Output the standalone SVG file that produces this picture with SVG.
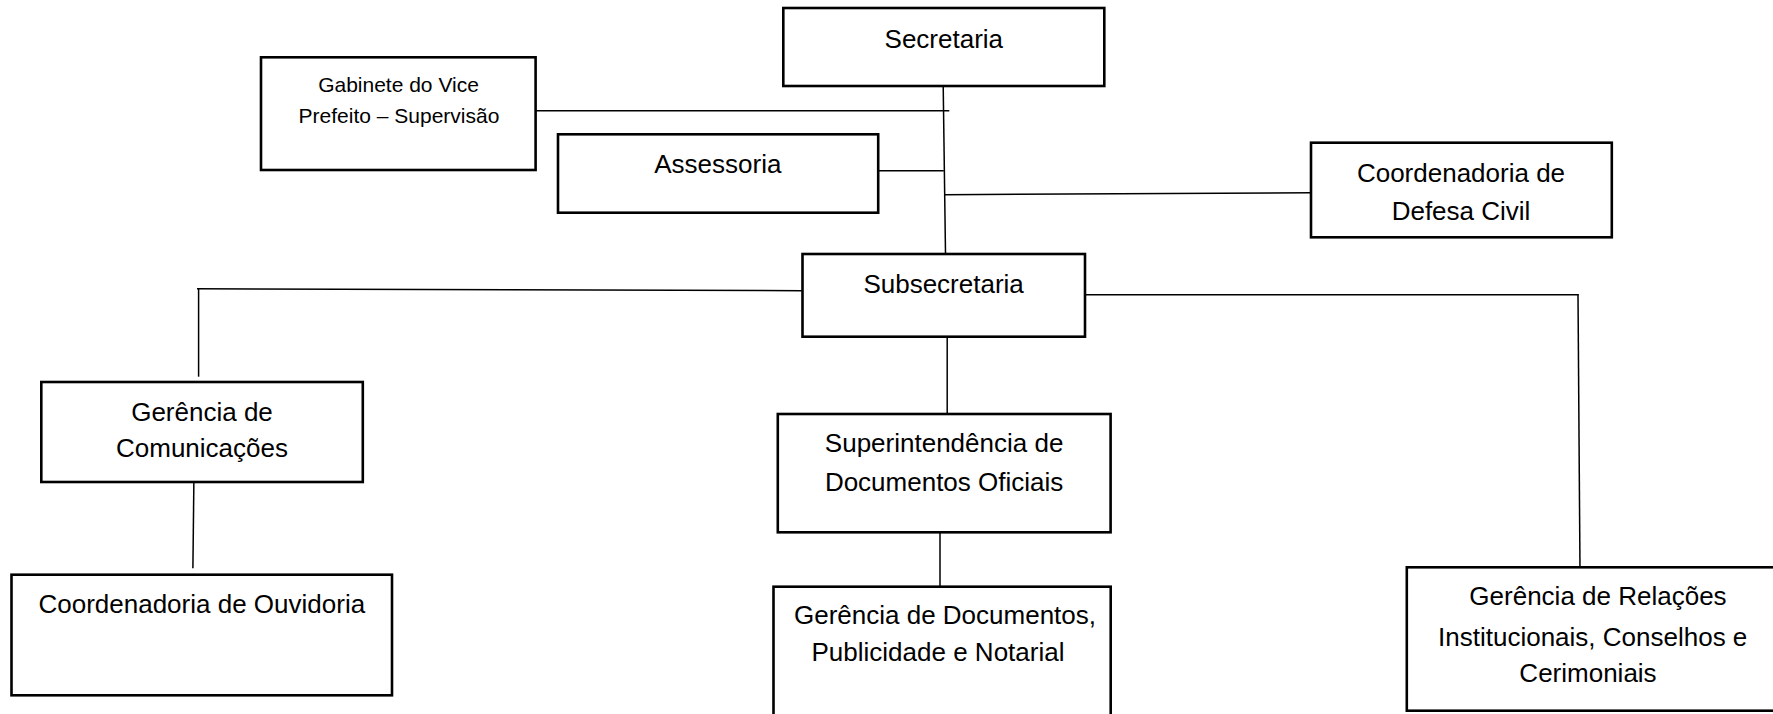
<svg xmlns="http://www.w3.org/2000/svg" width="1773" height="714" viewBox="0 0 1773 714">
<style>
  .box { fill: #ffffff; stroke: #000000; stroke-width: 2.6; }
  .lbl { font-family: "Liberation Sans", Arial, sans-serif; font-size: 26px; fill: #000000; text-anchor: middle; }
  .sm { font-size: 21px; }
  .conn line { stroke: #000000; stroke-width: 1.5; fill: none; }
</style>
<rect x="0" y="0" width="1773" height="714" fill="#ffffff"/>
<g id="connectors" class="conn">
  <line x1="943.2" y1="86" x2="945.5" y2="254"/>
  <line x1="535.6" y1="110.7" x2="949.3" y2="110.7"/>
  <line x1="878.2" y1="170.7" x2="943.8" y2="170.7"/>
  <line x1="944.4" y1="194.7" x2="1311" y2="192.7"/>
  <line x1="802.5" y1="290.7" x2="197" y2="288.7"/>
  <line x1="198.6" y1="289" x2="198.6" y2="376.7"/>
  <line x1="1085" y1="294.7" x2="1578.5" y2="294.7"/>
  <line x1="1578" y1="294" x2="1580" y2="570.7"/>
  <line x1="947.2" y1="336.7" x2="947.2" y2="416.7"/>
  <line x1="194" y1="470.7" x2="192.9" y2="568.3"/>
  <line x1="940" y1="529" x2="940" y2="586.7"/>
</g>
<g id="secretaria">
  <rect class="box" x="783.3" y="8" width="321" height="78"/>
  <text class="lbl" x="943.8" y="47.7">Secretaria</text>
</g>
<g id="gabinete">
  <rect class="box" x="261" y="57.3" width="274.6" height="112.7"/>
  <text class="lbl sm" x="398.5" y="91.7">Gabinete do Vice</text>
  <text class="lbl sm" x="399" y="122.7">Prefeito – Supervisão</text>
</g>
<g id="assessoria">
  <rect class="box" x="558" y="134.3" width="320.2" height="78.4"/>
  <text class="lbl" x="717.8" y="173.3">Assessoria</text>
</g>
<g id="defesa-civil">
  <rect class="box" x="1311" y="142.7" width="300.8" height="94.6"/>
  <text class="lbl" x="1461" y="181.7">Coordenadoria de</text>
  <text class="lbl" x="1461" y="220">Defesa Civil</text>
</g>
<g id="subsecretaria">
  <rect class="box" x="802.5" y="254" width="282.5" height="82.7"/>
  <text class="lbl" x="943.6" y="292.7">Subsecretaria</text>
</g>
<g id="comunicacoes">
  <rect class="box" x="41.3" y="382" width="321.5" height="100"/>
  <text class="lbl" x="202" y="420.7">Gerência de</text>
  <text class="lbl" x="202" y="457.3">Comunicações</text>
</g>
<g id="ouvidoria">
  <rect class="box" x="11.5" y="574.7" width="380.5" height="120.6"/>
  <text class="lbl" x="201.8" y="613.3">Coordenadoria de Ouvidoria</text>
</g>
<g id="superintendencia">
  <rect class="box" x="777.8" y="414" width="332.8" height="118.3"/>
  <text class="lbl" x="944.1" y="452.3">Superintendência de</text>
  <text class="lbl" x="944.1" y="490.7">Documentos Oficiais</text>
</g>
<g id="gerencia-documentos">
  <rect class="box" x="773.5" y="586.7" width="337.2" height="140"/>
  <text class="lbl" x="945" y="624.3">Gerência de Documentos,</text>
  <text class="lbl" x="938" y="660.7">Publicidade e Notarial</text>
</g>
<g id="gerencia-relacoes">
  <rect class="box" x="1406.8" y="567.3" width="380" height="143.4"/>
  <text class="lbl" x="1598" y="605">Gerência de Relações</text>
  <text class="lbl" x="1592.7" y="646">Institucionais, Conselhos e</text>
  <text class="lbl" x="1588" y="681.7">Cerimoniais</text>
</g>
</svg>
